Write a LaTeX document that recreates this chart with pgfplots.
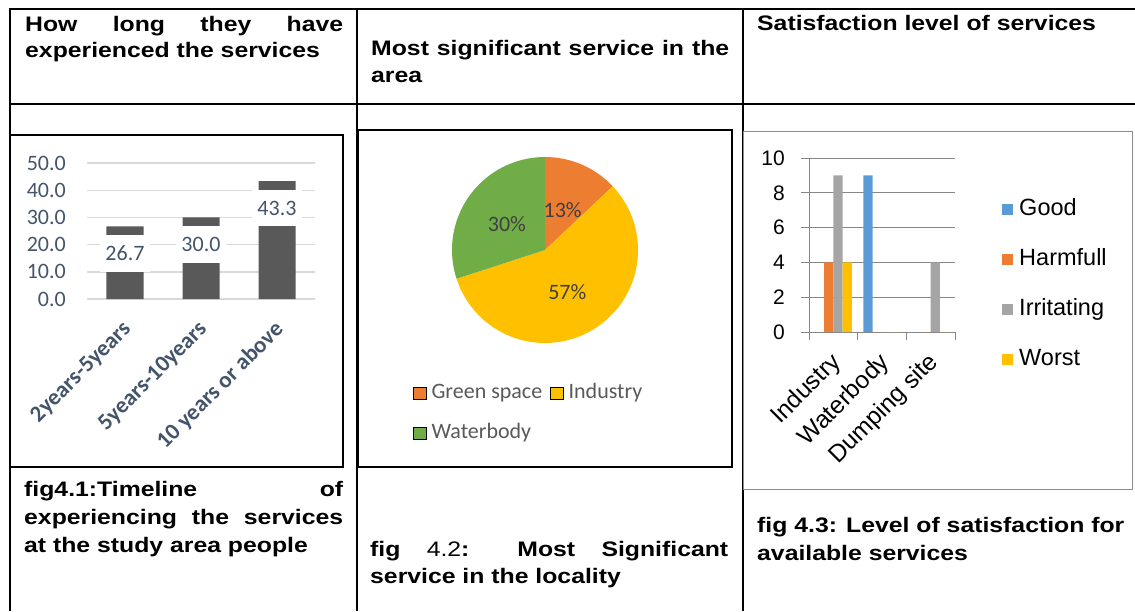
\documentclass[border=0pt]{standalone}
\usepackage{pgfplots}
\pgfplotsset{compat=1.18}
\usepackage{fontspec}
\setmainfont{Liberation Sans}
\newfontfamily\hdfont[FakeStretch=1.18]{Liberation Sans}
\newfontfamily\calfont{Carlito}
\newfontfamily\arfont{Liberation Sans}
\definecolor{barDark}{HTML}{595959}
\definecolor{tickBlue}{HTML}{44546A}
\definecolor{gridL}{HTML}{D9D9D9}
\definecolor{pieOr}{HTML}{ED7D31}
\definecolor{pieYe}{HTML}{FFC000}
\definecolor{pieGr}{HTML}{70AD47}
\definecolor{pieTxt}{HTML}{404040}
\definecolor{legTxt}{HTML}{595959}
\definecolor{cGood}{HTML}{5B9BD5}
\definecolor{cHarm}{HTML}{ED7D31}
\definecolor{cIrr}{HTML}{A5A5A5}
\definecolor{cWorst}{HTML}{FFC000}
\definecolor{axG}{HTML}{868686}
\definecolor{boxGray}{HTML}{8C8C8C}
\newcommand\HD{\hdfont\bfseries\fontsize{21}{26}\selectfont}
% pie values (percent)
\def\pA{13}\def\pB{57}\def\pC{30}
\pgfmathsetmacro\aA{90}
\pgfmathsetmacro\aB{90-3.6*\pA}
\pgfmathsetmacro\aC{\aB-3.6*\pB}
\pgfmathsetmacro\aD{\aC-3.6*\pC}
\begin{document}
\begin{tikzpicture}[x=1pt,y=1pt]
\useasboundingbox (0,0) rectangle (1135,611);
% ---- table rules
\draw[line width=1.8pt] (9.1,602) -- (1135,602);
\draw[line width=1.8pt] (9.1,507) -- (1135,507);
\draw[line width=1.8pt] (10,602.9) -- (10,0);
\draw[line width=1.8pt] (357,602.9) -- (357,0);
\draw[line width=1.8pt] (743,602.9) -- (743,0);
% ---- chart frames
\draw[line width=1.3pt] (10,476) rectangle (343,144);
\draw[line width=1.3pt] (358,481) rectangle (732,144);
\draw[line width=0.9pt, draw=boxGray] (743,480) rectangle (1132,122);
% ---- header texts
\node[anchor=base west, inner sep=0pt] at (25,579.3) {\HD\makebox[318pt][s]{How long they have}};
\node[anchor=base west, inner sep=0pt] at (25,553.3) {\HD experienced the services};
\node[anchor=base west, inner sep=0pt] at (371,555) {\HD\makebox[358pt][s]{Most significant service in the}};
\node[anchor=base west, inner sep=0pt] at (371,528) {\HD area};
\node[anchor=base west, inner sep=0pt] at (757,580) {\HD Satisfaction level of services};
% ---- captions
\node[anchor=base west, inner sep=0pt] at (24,114.5) {\HD\makebox[319pt][s]{fig4.1:Timeline of}};
\node[anchor=base west, inner sep=0pt] at (24,87) {\HD\makebox[319pt][s]{experiencing the services}};
\node[anchor=base west, inner sep=0pt] at (24,59) {\HD at the study area people};
\node[anchor=base west, inner sep=0pt] at (370,54.3) {\HD\makebox[358pt][s]{fig {\mdseries 4.2}: Most Significant}};
\node[anchor=base west, inner sep=0pt] at (370,27.7) {\HD service in the locality};
\node[anchor=base west, inner sep=0pt] at (757,79) {\HD fig 4.3: Level of satisfaction for};
\node[anchor=base west, inner sep=0pt] at (757,51) {\HD available services};

% ================= chart 1 =================
\begin{axis}[
  at={(87pt,312pt)}, anchor=south west, scale only axis,
  width=228pt, height=136pt,
  xmin=-0.5, xmax=2.5, ymin=0, ymax=50,
  ybar, bar width=37pt,
  axis line style={draw=none}, tick style={draw=none}, major tick length=0pt,
  ytick={0,10,20,30,40,50},
  ymajorgrids, grid style={draw=gridL, line width=1.4pt},
  yticklabel={\pgfmathprintnumber[fixed,fixed zerofill,precision=1,assume math mode=true]{\tick}},
  yticklabel style={font=\calfont\fontsize{22}{22}\selectfont, text=tickBlue, anchor=east, inner sep=0pt, xshift=-21pt},
  xtick={0,1,2},
  xticklabels={2years-5years,5years-10years,10 years or above},
  xticklabel style={font=\calfont\bfseries\fontsize{23}{23}\selectfont, text=tickBlue, inner sep=0pt, xshift=-4pt, yshift=-20pt, rotate=45, anchor=north east},
  nodes near coords={\pgfmathprintnumber[fixed,fixed zerofill,precision=1,assume math mode=true]{\pgfplotspointmeta}},
  nodes near coords style={font=\calfont\fontsize{22}{22}\selectfont, text=tickBlue, fill=white, inner xsep=5pt, inner ysep=11pt, anchor=center, yshift=-27pt},
]
\addplot[fill=barDark, draw=none] coordinates {(0,26.7) (1,30.0) (2,43.3)};
\end{axis}

% ================= chart 2 (pie) =================
\begin{axis}[
  at={(452pt,268pt)}, anchor=south west, scale only axis,
  width=186pt, height=186pt,
  xmin=-1, xmax=1, ymin=-1, ymax=1, hide axis,
  legend columns=2,
  legend image code/.code={\fill[#1] (0pt,-6pt) rectangle (13pt,6pt);},
  legend style={at={(-0.2097,-0.3777)}, anchor=west, draw=none, fill=none, inner sep=0pt,
    font=\calfont\fontsize{22}{22}\selectfont, text=legTxt, row sep=20pt,
    nodes={inner sep=0pt, text height=15pt, text depth=5pt},
    /tikz/every odd column/.append style={column sep=5pt},
    /tikz/every even column/.append style={column sep=8pt}},
  legend cell align=left,
]
\addlegendimage{fill=pieOr}\addlegendentry{Green space}
\addlegendimage{fill=pieYe}\addlegendentry{Industry}
\addlegendimage{fill=pieGr}\addlegendentry{Waterbody}
\fill[pieOr] (axis cs:0,0) -- ++(\aA:93pt) arc[start angle=\aA, end angle=\aB, radius=93pt] -- cycle;
\fill[pieYe] (axis cs:0,0) -- ++(\aB:93pt) arc[start angle=\aB, end angle=\aC, radius=93pt] -- cycle;
\fill[pieGr] (axis cs:0,0) -- ++(\aC:93pt) arc[start angle=\aC, end angle=\aD, radius=93pt] -- cycle;
\node[font=\calfont\fontsize{22}{22}\selectfont, text=pieTxt] at (axis cs:0.19,0.43) {\pA\%};
\node[font=\calfont\fontsize{22}{22}\selectfont, text=pieTxt] at (axis cs:-0.41,0.28) {\pC\%};
\node[font=\calfont\fontsize{22}{22}\selectfont, text=pieTxt] at (axis cs:0.24,-0.45) {\pB\%};
\end{axis}

% ================= chart 3 =================
\begin{axis}[
  at={(809pt,279pt)}, anchor=south west, scale only axis,
  width=146pt, height=174pt,
  ybar=0pt, bar width=9.3pt,
  xmin=-0.5, xmax=2.5, ymin=0, ymax=10,
  ytick={0,2,4,6,8,10},
  xtick={0,1,2},
  xticklabels={Industry,Waterbody,Dumping site},
  minor xtick={-0.5,0.5,1.5,2.5},
  axis x line*=bottom, axis y line*=left,
  axis line style={draw=axG, line width=1pt},
  ymajorgrids, grid style={draw=axG, line width=1pt},
  tick align=outside, major tick length=8pt, minor tick length=8pt,
  tick style={draw=axG, line width=1pt},
  major x tick style={draw=none},
  /pgf/number format/assume math mode=true,
  yticklabel style={font=\arfont\fontsize{21}{21}\selectfont, anchor=east, inner sep=0pt, xshift=-16pt},
  xticklabel style={font=\arfont\fontsize{24.5}{24.5}\selectfont, inner sep=0pt, xshift=-4pt, yshift=-10.5pt, rotate=45, anchor=north east},
  legend image code/.code={\fill[#1] (0pt,-5.5pt) rectangle (11pt,5.5pt);},
  legend style={at={(1.322,0.273)}, anchor=west, draw=none, fill=none, inner sep=0pt,
    font=\arfont\fontsize{23.5}{23.5}\selectfont, row sep=28.3pt,
    nodes={inner sep=0pt, text height=17pt, text depth=5pt},
    /tikz/every odd column/.append style={column sep=6pt}},
  legend cell align=left,
]
\addplot[fill=cGood, draw=none] coordinates {(0,0) (1,9) (2,0)};
\addplot[fill=cHarm, draw=none] coordinates {(0,4) (1,0) (2,0)};
\addplot[fill=cIrr, draw=none] coordinates {(0,9) (1,0) (2,4)};
\addplot[fill=cWorst, draw=none] coordinates {(0,4) (1,0) (2,0)};
\legend{Good,Harmfull,Irritating,Worst}
\end{axis}
\end{tikzpicture}
\end{document}
